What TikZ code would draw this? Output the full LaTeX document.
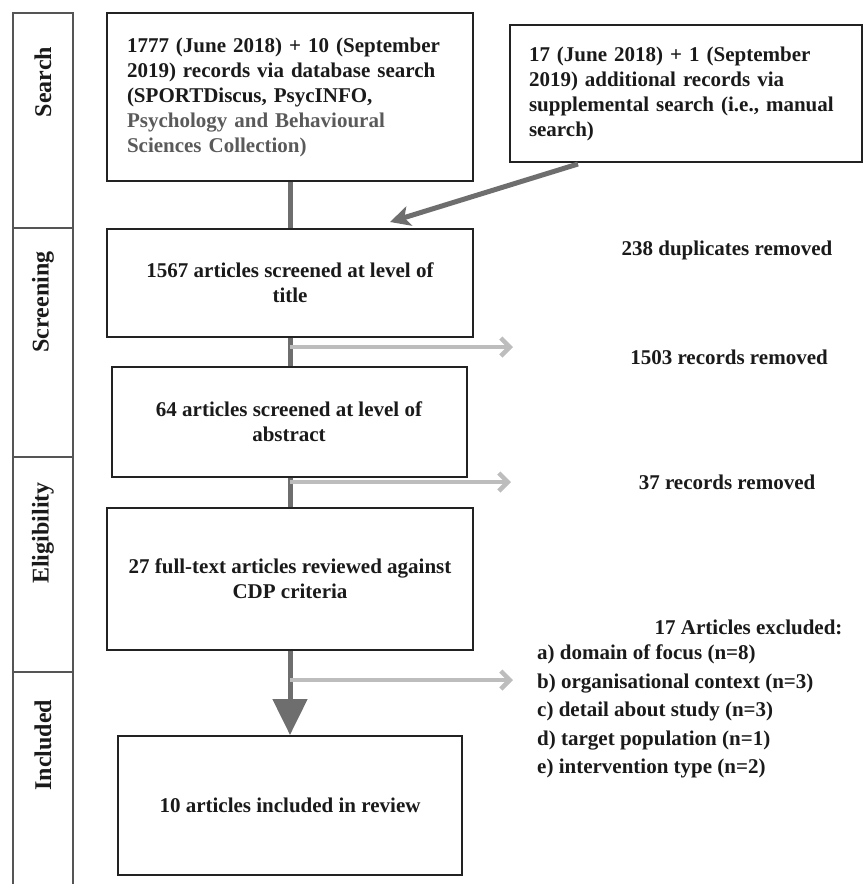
\documentclass[tikz,border=0pt]{standalone}
\usepackage{fontspec}
\setmainfont{Liberation Serif}
\usetikzlibrary{arrows.meta,calc}
\definecolor{boxline}{HTML}{222222}
\definecolor{sideline}{HTML}{555555}
\definecolor{mainconn}{HTML}{6E6E6E}
\definecolor{lightconn}{HTML}{BDBDBD}
\definecolor{graytext}{HTML}{5A5A5A}
\definecolor{txt}{HTML}{1A1A1A}
\begin{document}
\begin{tikzpicture}[x=1pt,y=-1pt,
  every node/.style={font=\fontsize{21}{25}\selectfont\bfseries, text=txt},
  stage/.style={draw=sideline, line width=1.3pt, minimum width=60pt, inner sep=0pt},
  stagelabel/.style={rotate=90, font=\fontsize{24}{28}\selectfont\bfseries},
  flowbox/.style={draw=boxline, line width=2pt, align=center, inner sep=0pt},
  leftbox/.style={draw=boxline, line width=2pt, align=left, inner ysep=0pt},
  mainline/.style={draw=mainconn, line width=5pt},
  lightarrow/.style={draw=lightconn, line width=4.5pt, -{Straight Barb[length=9pt,width=18pt]}},
  note/.style={align=center}
]
\useasboundingbox (0,0) rectangle (866,884);

% stage sidebar
\node[stage, minimum height=215pt] (sec1) at (43,120.5) {};
\node[stage, minimum height=229pt] (sec2) at (43,342.5) {};
\node[stage, minimum height=215pt] (sec3) at (43,564.5) {};
\node[stage, minimum height=218pt] (sec4) at (43,781) {};
\node[stagelabel] (lab1) at (43,82) {Search};
\node[stagelabel] (lab2) at (43,302) {Screening};
\node[stagelabel] (lab3) at (43,533) {Eligibility};
\node[stagelabel] (lab4) at (43,745) {Included};

% boxes
\node[leftbox, text width=326pt, inner xsep=20pt, minimum height=168pt] (box1) at (290,97)
  {1777 (June 2018) + 10 (September\\
   2019) records via database search\\
   (SPORTDiscus, PsycINFO,\\
   \textcolor{graytext}{Psychology and Behavioural}\\
   \textcolor{graytext}{Sciences Collection)}};
\node[leftbox, text width=314pt, inner xsep=19pt, minimum height=137pt] (supp) at (686,93.5)
  {17 (June 2018) + 1 (September\\
   2019) additional records via\\
   supplemental search (i.e., manual\\
   search)};
\node[flowbox, minimum width=366pt, minimum height=108pt] (box2) at (290,283)
  {1567 articles screened at level of\\ title};
\node[flowbox, minimum width=355pt, minimum height=110pt] (box3) at (289,422)
  {64 articles screened at level of\\ abstract};
\node[flowbox, minimum width=366pt, minimum height=142pt] (box4) at (290,579)
  {27 full-text articles reviewed against\\ CDP criteria};
\node[flowbox, minimum width=344pt, minimum height=139pt] (box5) at (290,805.5)
  {10 articles included in review};

% side notes
\node[note] (dup) at (727,250) {238 duplicates removed};
\node[note] (rem1) at (729,357) {1503 records removed};
\node[note] (rem2) at (727,482) {37 records removed};
\node[anchor=east] (exhead) at (846,627) {17 Articles excluded:};
\node[anchor=north west, align=left, inner sep=0pt,
      font=\fontsize{21}{28.5}\selectfont\bfseries] (exlist) at (537,645)
  {a) domain of focus (n=8)\\
   b) organisational context (n=3)\\
   c) detail about study (n=3)\\
   d) target population (n=1)\\
   e) intervention type (n=2)};

% main flow
\draw[mainline] (box1.south) -- (box2.north);
\draw[mainline] (box2.south) -- (box2.south |- box3.north);
\draw[mainline] (box2.south |- box3.south) -- (box4.north);
\draw[mainline, -{Triangle[length=36pt,width=34pt]}] (box4.south) -- (box5.north);

% supplemental arrow
\coordinate (suppstart) at (578,164);
\coordinate (supptip) at (390,222);
\draw[mainline, -{Stealth[length=20pt,width=20pt,inset=5pt]}] (suppstart) -- (supptip);

% exclusion arrows
\coordinate (j1) at (290,347);
\coordinate (e1) at (513,347);
\coordinate (j2) at (290,482);
\coordinate (e2) at (511,482);
\coordinate (j3) at (290,680);
\coordinate (e3) at (513,680);
\draw[lightarrow] (j1) -- (e1);
\draw[lightarrow] (j2) -- (e2);
\draw[lightarrow] (j3) -- (e3);
\end{tikzpicture}
\end{document}
